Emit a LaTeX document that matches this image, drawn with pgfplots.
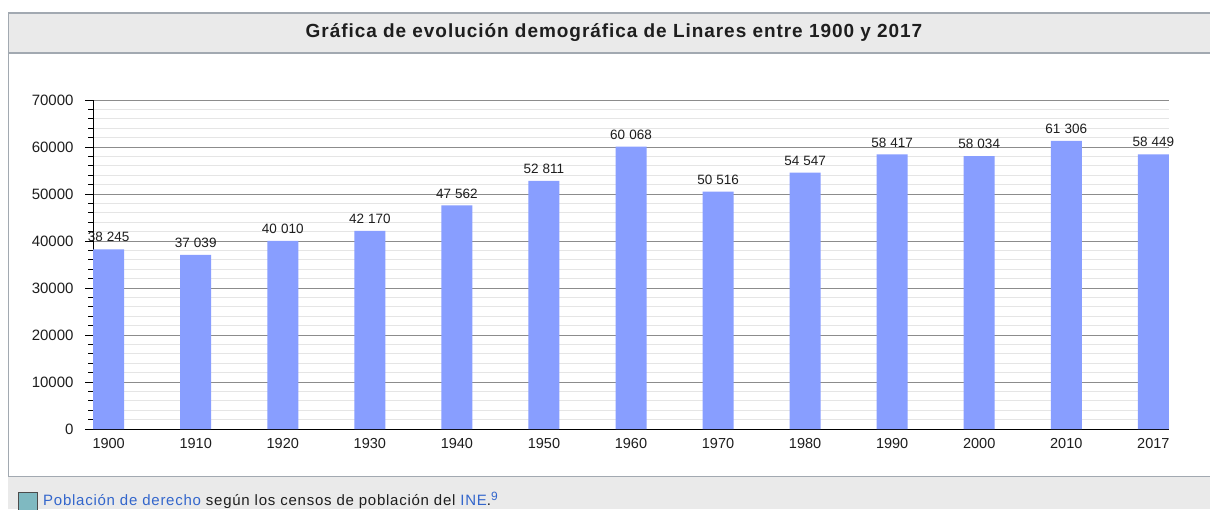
\documentclass[border=0pt]{standalone}
\usepackage{fontspec}
\setmainfont{Liberation Sans}
\usepackage{pgfplots}
\pgfplotsset{compat=1.18}
\usepackage{pgfplotstable}
\definecolor{barblue}{RGB}{136,158,255}
\definecolor{bandgray}{RGB}{234,234,234}
\definecolor{bandline}{RGB}{162,169,177}
\definecolor{linkblue}{RGB}{51,102,204}
\definecolor{legteal}{RGB}{127,185,193}
\definecolor{txt}{RGB}{30,30,30}
\pgfplotstableread{
x year pop
0 1900 38245
1 1910 37039
2 1920 40010
3 1930 42170
4 1940 47562
5 1950 52811
6 1960 60068
7 1970 50516
8 1980 54547
9 1990 58417
10 2000 58034
11 2010 61306
12 2017 58449
}\data
\begin{document}
\begin{tikzpicture}[x=1pt,y=1pt]
\path[use as bounding box] (0,0) rectangle (1210,509);
\fill[white] (0,0) rectangle (1210,509);
% title band
\fill[bandgray] (8,456) rectangle (1210,496);
\draw[bandline, line width=1.5] (8,456) -- (1210,456);
\draw[bandline, line width=1.5] (8,496) -- (1210,496);
\draw[bandline, line width=1] (8,0) -- (8,496);
% legend band
\fill[bandgray] (8,0) rectangle (1210,33);
\draw[bandline, line width=1] (8,33) -- (1210,33);
\node[anchor=base, inner sep=0, font=\fontsize{19}{20}\selectfont\bfseries\addfontfeature{LetterSpace=5}, text=txt] at (614,471) {Gráfica de evolución demográfica de Linares entre 1900 y 2017};
\filldraw[fill=legteal, draw=black!70, line width=1] (18,-3) rectangle (37.5,17);
\node[anchor=base west, inner sep=0, font=\fontsize{15}{17}\selectfont\addfontfeature{LetterSpace=5}, text=txt] at (43,4) {\textcolor{linkblue}{Población de derecho} según los censos de población del \textcolor{linkblue}{INE}.\raisebox{5pt}{\fontsize{12}{12}\selectfont\textcolor{linkblue}{9}}};
\begin{axis}[
  at={(93pt,80pt)}, anchor=south west,
  scale only axis, width=1076pt, height=329pt,
  xmin=-0.18, xmax=12.18, ymin=0, ymax=70000,
  ytick={0,10000,...,70000}, minor y tick num=4,
  scaled y ticks=false,
  xtick={0,...,12},
  xticklabels={1900,1910,1920,1930,1940,1950,1960,1970,1980,1990,2000,2010,2017},
  axis x line=bottom, axis y line=left,
  axis line style={-, black, line width=1},
  ymajorgrids, yminorgrids,
  major grid style={black!45, line width=0.9},
  minor grid style={black!10, line width=1.2},
  tick align=outside,
  major tick length=8pt, minor tick length=5pt,
  y tick style={black, line width=1},
  xtick style={draw=none},
  /pgf/number format/assume math mode=true,
  /pgf/number format/1000 sep={},
  tick label style={font=\fontsize{14.5}{16}\selectfont, text=txt},
  xticklabel style={yshift=2pt},
  yticklabel style={xshift=-8pt, font=\fontsize{15}{16}\selectfont},
  nodes near coords={\pgfmathprintnumber[1000 sep={\hspace{0.3em}}]{\pgfplotspointmeta}},
  nodes near coords style={anchor=south, inner sep=0pt, yshift=7pt, font=\fontsize{13.5}{15}\selectfont, text=txt},
  clip=false,
]
\addplot[ybar, bar width=31pt, fill=barblue, draw=none] table[x=x,y=pop]{\data};
\end{axis}
\end{tikzpicture}
\end{document}
